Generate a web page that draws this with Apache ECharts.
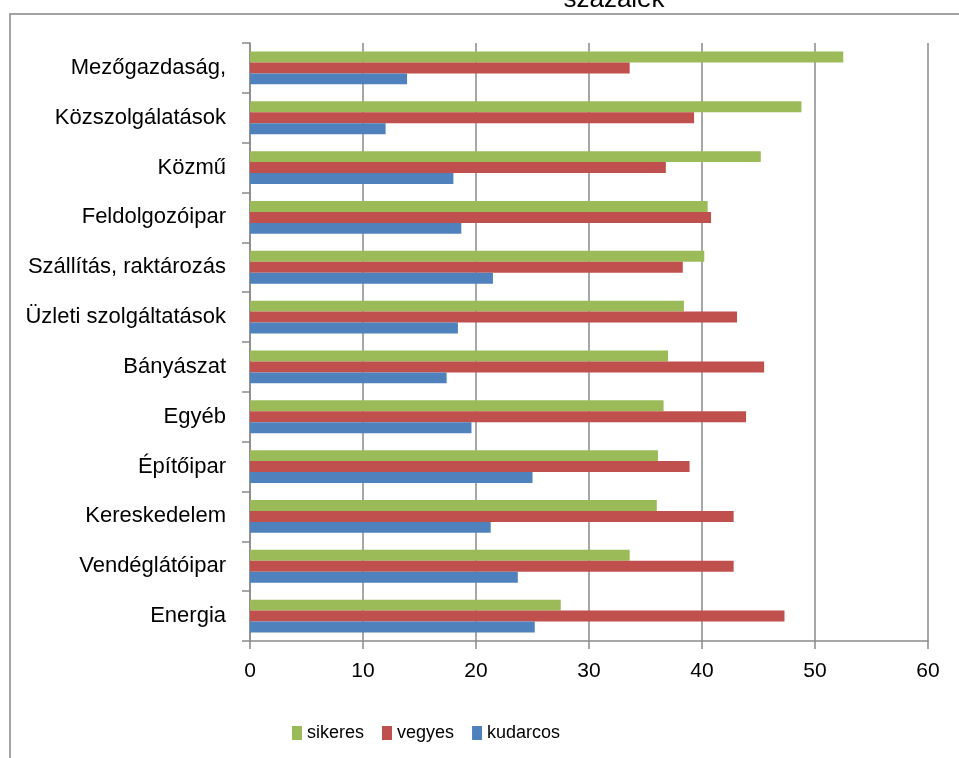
<!DOCTYPE html>
<html>
<head>
<meta charset="utf-8">
<script src="https://cdn.jsdelivr.net/npm/echarts@6/dist/echarts.min.js"></script>
<style>
  html, body { margin: 0; padding: 0; background: #fff; }
  #chart { width: 959px; height: 758px; }
</style>
</head>
<body>
<div id="chart"></div>
<script>
// Sectors, listed top to bottom as shown on the chart
const categories = [
  'Mezőgazdaság,', 'Közszolgálatások', 'Közmű', 'Feldolgozóipar',
  'Szállítás, raktározás', 'Üzleti szolgáltatások', 'Bányászat', 'Egyéb',
  'Építőipar', 'Kereskedelem', 'Vendéglátóipar', 'Energia'
];
// Shares in percent
const sikeres  = [52.5, 48.8, 45.2, 40.5, 40.2, 38.4, 37.0, 36.6, 36.1, 36.0, 33.6, 27.5];
const vegyes   = [33.6, 39.3, 36.8, 40.8, 38.3, 43.1, 45.5, 43.9, 38.9, 42.8, 42.8, 47.3];
const kudarcos = [13.9, 12.0, 18.0, 18.7, 21.5, 18.4, 17.4, 19.6, 25.0, 21.3, 23.7, 25.2];
const seriesNames = ['sikeres', 'vegyes', 'kudarcos'];
const xTicks = { min: 0, max: 60, interval: 10 };
const unitLabel = 'százalék';

const colors = ['#9BBB59', '#C0504D', '#4F81BD'];
const gridGray = '#8a8a8a';
const font = '"Liberation Sans", Arial, sans-serif';

const chart = echarts.init(document.getElementById('chart'), null, { renderer: 'canvas' });

const values = [sikeres, vegyes, kudarcos];
const series = seriesNames.map((name, i) => ({
  name: name,
  type: 'bar',
  data: values[i],
  barGap: '0%',
  barCategoryGap: '34%',
  itemStyle: { color: colors[i] },
  emphasis: { disabled: true },
  animation: false
}));

chart.setOption({
  backgroundColor: '#ffffff',
  animation: false,
  grid: { left: 250, right: 31, top: 43, bottom: 117, containLabel: false },
  legend: {
    data: seriesNames,
    left: 287,
    top: 719,
    itemWidth: 10,
    itemHeight: 14,
    itemGap: 18,
    icon: 'rect',
    textStyle: { fontFamily: font, fontSize: 18, color: '#000' },
    selectedMode: false
  },
  xAxis: {
    type: 'value',
    min: xTicks.min,
    max: xTicks.max,
    interval: xTicks.interval,
    axisLine: { show: true, lineStyle: { color: gridGray, width: 1.5 } },
    axisTick: { show: true, length: 8, lineStyle: { color: gridGray, width: 1.5 } },
    splitLine: { show: true, lineStyle: { color: gridGray, width: 1.5 } },
    axisLabel: { margin: 20, fontFamily: font, fontSize: 21, color: '#000' }
  },
  yAxis: {
    type: 'category',
    data: categories,
    inverse: true,
    axisLine: { show: true, lineStyle: { color: gridGray, width: 1.5 } },
    axisTick: { show: true, length: 8, lineStyle: { color: gridGray, width: 1.5 } },
    axisLabel: { margin: 24, fontFamily: font, fontSize: 22, color: '#000' }
  },
  graphic: [
    {
      type: 'rect',
      silent: true,
      shape: { x: 10, y: 14, width: 1000, height: 800 },
      style: { fill: 'none', stroke: '#a3a3a3', lineWidth: 2 }
    },
    {
      type: 'text',
      silent: true,
      x: 614,
      y: 0,
      style: {
        text: unitLabel,
        fontFamily: font,
        fontSize: 26,
        fill: '#000',
        textAlign: 'center',
        textVerticalAlign: 'middle'
      }
    }
  ],
  series: series
});
</script>
</body>
</html>
